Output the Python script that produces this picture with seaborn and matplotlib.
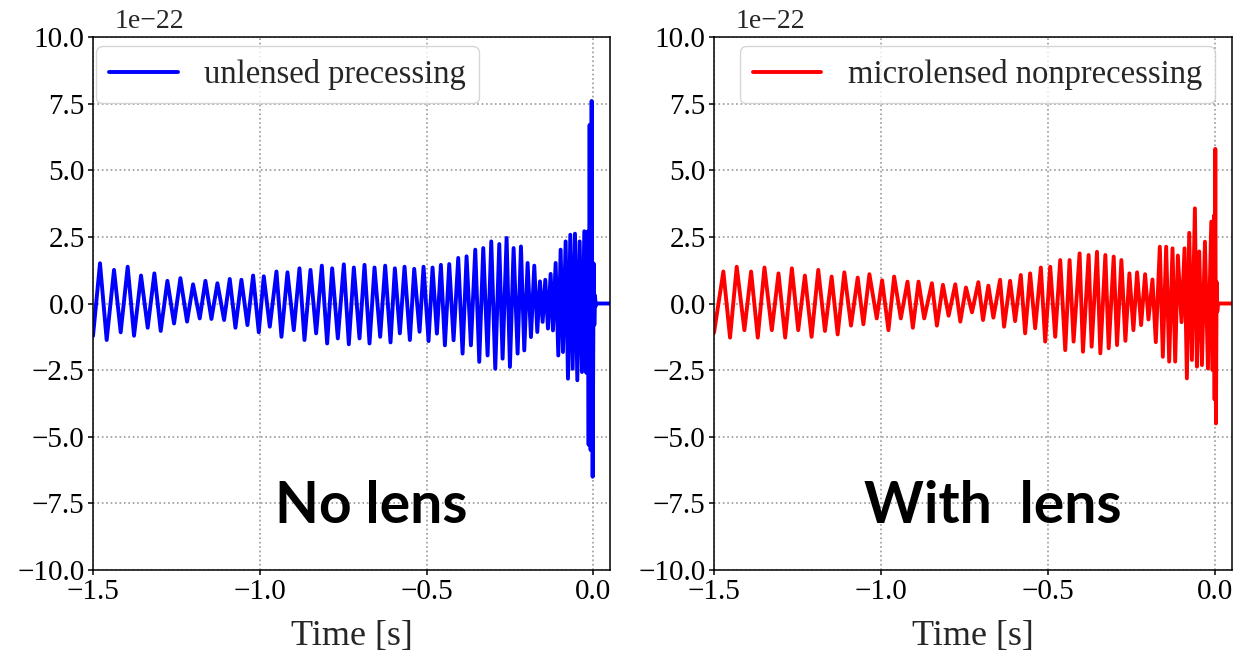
import numpy as np
import pandas as pd
import matplotlib
matplotlib.use("Agg")
import matplotlib.pyplot as plt
import seaborn as sns

# Strain extrema (time in s, amplitude in units of 1e-22), alternating crest / trough
unlensed_t = [
    -1.500, -1.479, -1.459, -1.437, -1.417, -1.396, -1.377, -1.356, -1.336, -1.316,
    -1.297, -1.277, -1.257, -1.238, -1.218, -1.200, -1.180, -1.163, -1.145, -1.127,
    -1.107, -1.090, -1.073, -1.055, -1.037, -1.020, -1.003, -0.988, -0.970, -0.950,
    -0.935, -0.917, -0.898, -0.881, -0.866, -0.848, -0.831, -0.814, -0.798, -0.783,
    -0.766, -0.748, -0.733, -0.718, -0.701, -0.686, -0.671, -0.656, -0.639, -0.624,
    -0.608, -0.595, -0.580, -0.566, -0.550, -0.537, -0.521, -0.509, -0.494, -0.482,
    -0.469, -0.457, -0.445, -0.432, -0.419, -0.405, -0.392, -0.380, -0.367, -0.354,
    -0.342, -0.330, -0.317, -0.306, -0.294, -0.282, -0.272, -0.260, -0.250, -0.239,
    -0.227, -0.217, -0.207, -0.197, -0.187, -0.177, -0.168, -0.160, -0.152, -0.144,
    -0.136, -0.128, -0.121, -0.113, -0.105, -0.098, -0.091, -0.083, -0.076, -0.069,
    -0.062, -0.055, -0.048, -0.041, -0.034, -0.027, -0.021, -0.017, -0.014, -0.011,
    -0.008, -0.005, -0.002, 0.001, 0.003, 0.005, 0.007, 0.009, 0.050,
]
unlensed_h = [
    -1.22, 1.51, -1.37, 1.26, -1.08, 1.38, -1.21, 1.05, -0.91, 1.13,
    -1.03, 0.85, -0.75, 0.95, -0.68, 0.72, -0.56, 0.85, -0.58, 0.76,
    -0.62, 0.92, -0.91, 0.89, -0.81, 1.05, -1.08, 1.02, -0.87, 1.20,
    -1.25, 1.17, -1.00, 1.32, -1.37, 1.26, -1.12, 1.42, -1.50, 1.32,
    -1.31, 1.47, -1.53, 1.35, -1.31, 1.45, -1.50, 1.35, -1.25, 1.42,
    -1.46, 1.32, -1.12, 1.38, -1.37, 1.30, -1.06, 1.38, -1.41, 1.35,
    -1.13, 1.45, -1.57, 1.48, -1.38, 1.71, -1.88, 1.77, -1.57, 2.02,
    -2.19, 2.08, -1.95, 2.33, -2.45, 2.23, -2.07, 2.46, -2.38, 2.08,
    -1.88, 2.14, -1.76, 1.52, -1.26, 1.42, -1.07, 0.83, -0.69, 0.89,
    -0.94, 1.11, -1.01, 1.52, -1.95, 2.02, -1.82, 2.33, -2.82, 2.58,
    -2.45, 2.62, -2.88, 2.33, -2.57, 2.71, -2.60, 2.70, -5.30, 6.70,
    -5.50, 7.60, -6.50, 1.50, -0.80, 0.30, -0.10, 0.00, 0.00,
]

microlensed_t = [
    -1.500, -1.472, -1.452, -1.432, -1.409, -1.389, -1.369, -1.349, -1.327, -1.307,
    -1.287, -1.267, -1.248, -1.228, -1.208, -1.188, -1.168, -1.148, -1.130, -1.110,
    -1.090, -1.070, -1.053, -1.035, -1.013, -0.997, -0.978, -0.961, -0.941, -0.921,
    -0.905, -0.888, -0.871, -0.848, -0.833, -0.815, -0.798, -0.778, -0.763, -0.746,
    -0.728, -0.709, -0.695, -0.679, -0.664, -0.644, -0.632, -0.614, -0.599, -0.582,
    -0.569, -0.554, -0.539, -0.522, -0.509, -0.494, -0.479, -0.464, -0.449, -0.436,
    -0.424, -0.406, -0.396, -0.379, -0.370, -0.354, -0.344, -0.329, -0.319, -0.304,
    -0.294, -0.281, -0.269, -0.257, -0.245, -0.234, -0.222, -0.210, -0.200, -0.188,
    -0.178, -0.166, -0.157, -0.147, -0.138, -0.128, -0.120, -0.112, -0.101, -0.092,
    -0.085, -0.078, -0.070, -0.061, -0.055, -0.048, -0.040, -0.031, -0.022, -0.012,
    -0.008, -0.004, -0.002, 0.000, 0.002, 0.004, 0.006, 0.008, 0.050,
]
microlensed_h = [
    -1.10, 1.20, -1.28, 1.38, -1.00, 1.20, -1.28, 1.35, -1.00, 1.13,
    -1.28, 1.32, -1.00, 1.05, -1.25, 1.26, -1.03, 1.01, -1.16, 1.17,
    -0.83, 0.97, -0.78, 1.10, -0.56, 0.87, -1.00, 1.01, -0.56, 0.82,
    -0.91, 0.82, -0.56, 0.76, -0.83, 0.70, -0.46, 0.72, -0.68, 0.60,
    -0.33, 0.80, -0.62, 0.67, -0.53, 0.89, -0.87, 0.85, -0.66, 1.07,
    -1.12, 1.13, -0.93, 1.35, -1.43, 1.38, -1.25, 1.63, -1.75, 1.63,
    -1.43, 1.88, -1.81, 1.82, -1.62, 1.94, -1.87, 1.82, -1.68, 1.76,
    -1.56, 1.63, -1.40, 1.13, -1.00, 1.17, -0.81, 1.10, -0.60, 0.90,
    -1.45, 2.13, -2.00, 2.13, -2.18, 2.07, -2.18, 1.80, -0.70, 2.07,
    -2.81, 2.65, -2.12, 3.57, -2.37, 1.95, -2.31, 2.32, -2.44, 3.07,
    -2.50, 3.30, -3.60, 5.80, -4.50, 0.80, -0.30, 0.00, 0.00,
]

series_labels = ["unlensed precessing", "microlensed nonprecessing"]
series_colors = ["#0000ff", "#ff0000"]
panel_notes = ["No lens", "With  lens"]
x_ticks = [-1.5, -1.0, -0.5, 0.0]
y_ticks = [-10.0, -7.5, -5.0, -2.5, 0.0, 2.5, 5.0, 7.5, 10.0]
scale = 1e-22

sns.set_style("ticks")
plt.rcParams["font.family"] = ["Liberation Serif", "DejaVu Serif"]
plt.rcParams.update({
    "axes.linewidth": 1.1,
    "axes.edgecolor": "black",
    "xtick.major.width": 1.1,
    "ytick.major.width": 1.1,
    "xtick.major.size": 3.5,
    "ytick.major.size": 3.5,
    "xtick.major.pad": 3,
    "ytick.major.pad": 2.5,
    "xtick.color": "black",
    "ytick.color": "black",
})

fig = plt.figure(figsize=(12.37, 6.65), dpi=100)
axes_boxes = [
    [93 / 1237, 95 / 665, 517 / 1237, 533 / 665],
    [714 / 1237, 95 / 665, 518 / 1237, 533 / 665],
]
legend_anchor = [
    dict(loc="upper left", bbox_to_anchor=(0.006, 0.983)),
    dict(loc="upper right", bbox_to_anchor=(0.967, 0.983)),
]

series = [(unlensed_t, unlensed_h), (microlensed_t, microlensed_h)]

for i, box in enumerate(axes_boxes):
    t, h = series[i]
    ax = fig.add_axes(box)
    df = pd.DataFrame({"time": t, "strain": np.asarray(h) * scale})
    sns.lineplot(data=df, x="time", y="strain", ax=ax, color=series_colors[i],
                 linewidth=2.8, estimator=None, sort=False, label=series_labels[i])
    for line in ax.get_lines():
        line.set_solid_joinstyle("round")
    ax.set_xlim(-1.5, 0.05)
    ax.set_ylim(-10 * scale, 10 * scale)
    ax.set_xticks(x_ticks)
    ax.set_yticks([v * scale for v in y_ticks])
    ax.ticklabel_format(axis="y", style="sci", scilimits=(-22, -22))
    ax.tick_params(labelsize=21, direction="out")
    ax.yaxis.get_offset_text().set_visible(False)
    ax.text(0.042, 1.017, "1e\u221222", transform=ax.transAxes, fontsize=20,
            ha="left", va="baseline")
    ax.grid(True, linestyle=":", linewidth=1.2, color="#999999")
    ax.set_xlabel("Time [s]", fontsize=26, labelpad=11)
    ax.set_ylabel("")
    leg = ax.legend(fontsize=23.5, borderaxespad=0, handlelength=2.1,
                    handletextpad=0.8, fancybox=True, **legend_anchor[i])
    leg.get_frame().set_edgecolor("#cccccc")
    ax.text(-0.665, -7.6 * scale, panel_notes[i], fontsize=41, fontweight="bold",
            family=["Lato", "DejaVu Sans"], ha="center", va="center", color="black")

fig.savefig("out.png", dpi=100)
